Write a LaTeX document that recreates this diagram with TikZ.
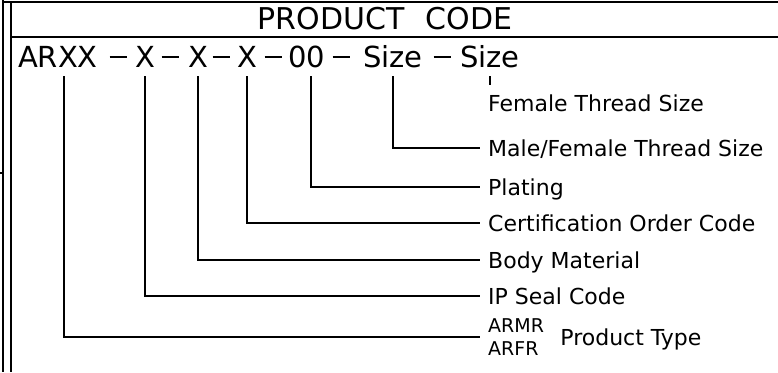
\documentclass[tikz,border=0pt]{standalone}
\usepackage{fontspec}
\setmainfont{DejaVu Sans}
\newfontfamily\cadfont{DejaVu Sans}
\usetikzlibrary{positioning}

\begin{document}
\begin{tikzpicture}[
  x=1pt, y=-1pt,
  code/.style={font=\fontsize{29}{29}\cadfont, inner sep=0pt, text height=21pt, text depth=9pt, anchor=base},
  lbl/.style={font=\fontsize{22}{22}\cadfont, anchor=west, inner xsep=8pt, inner ysep=0pt, text height=16pt, text depth=0pt},
  lblstack/.style={font=\fontsize{19}{23}\cadfont, anchor=west, inner xsep=8pt, inner ysep=0pt, align=left},
  wire/.style={line width=1.2pt},
  frame/.style={line width=1.6pt}
]
\useasboundingbox (0,0) rectangle (778,372);

% sheet border and title strip
\draw[frame] (3,0) -- (3,372);
\draw[frame] (11,2) -- (11,372);
\draw[frame] (3,2) -- (778,2);
\draw[frame] (11,37) -- (778,37);
\draw[frame] (0,173) -- (3,173);
\node[font=\fontsize{30}{30}\cadfont] (title) at (385,19) {PRODUCT\hspace{12pt} CODE};

% code string
\newcommand{\cdash}{\rule[9.3pt]{17pt}{1.4pt}}
\node[code] (ar) at (58,67) {ARXX};
\node[code] (d1) at (118,67) {\cdash};
\node[code] (xa) at (145,67) {X};
\node[code] (d2) at (170,67) {\cdash};
\node[code] (xb) at (198,67) {X};
\node[code] (d3) at (221,67) {\cdash};
\node[code] (xc) at (247,67) {X};
\node[code] (d4) at (273,67) {\cdash};
\node[code] (pl) at (307,67) {00};
\node[code] (d5) at (341,67) {\cdash};
\node[code] (sz1) at (393,67) {Size};
\node[code] (d6) at (442,67) {\cdash};
\node[code] (sz2) at (490,67) {Size};

% labels
\node[lbl] (lfem) at (480,103) {Female Thread Size};
\node[lbl] (lmf) at (480,148) {Male/Female Thread Size};
\node[lbl] (lplt) at (480,187) {Plating};
\node[lbl] (lcert) at (480,223) {Certification Order Code};
\node[lbl] (lbody) at (480,260) {Body Material};
\node[lbl] (lip) at (480,296) {IP Seal Code};
\node[lblstack] (ltype) at (480,337) {ARMR\\ARFR};
\node[lbl, right=0pt of ltype] (lprod) {Product Type};
\coordinate (femend) at (490,85);

% leaders
\draw[wire] (sz2.south) -- (femend);
\draw[wire] (sz1.south) |- (lmf.west);
\draw[wire] (pl.south) ++(4,0) |- (lplt.west);
\draw[wire] (xc.south) |- (lcert.west);
\draw[wire] (xb.south) |- (lbody.west);
\draw[wire] (xa.south) |- (lip.west);
\draw[wire] ([xshift=6pt]ar.south) |- (ltype.west);
\end{tikzpicture}
\end{document}
